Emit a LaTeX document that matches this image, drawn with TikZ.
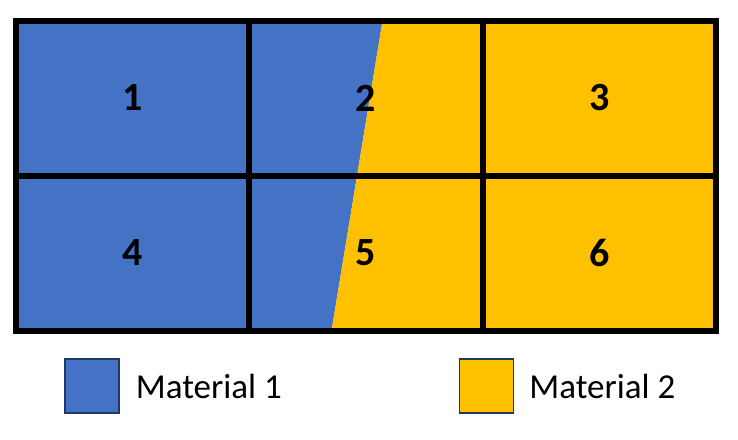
\documentclass[tikz,border=0pt]{standalone}
\usepackage{fontspec}
\setmainfont{Carlito}
\usetikzlibrary{positioning}
\definecolor{matblue}{HTML}{4472C4}
\definecolor{matyellow}{HTML}{FFC000}
\definecolor{legendedge}{HTML}{1F3864}

\begin{document}
\begin{tikzpicture}[x=1pt,y=-1pt,
    gridline/.style={line width=6pt,black},
    cellnum/.style={font=\fontsize{40}{48}\selectfont\bfseries,inner sep=0pt},
    legendbox/.style={draw=legendedge,line width=1.5pt,minimum size=54pt,inner sep=0pt},
    legendlabel/.style={font=\fontsize{35}{42}\selectfont,inner sep=0pt}]
    \useasboundingbox (0,0) rectangle (738,439);
    % mesh corners and interface
    \coordinate (TL) at (16,21);
    \coordinate (TR) at (716,21);
    \coordinate (BL) at (16,331);
    \coordinate (BR) at (716,331);
    \coordinate (IT) at (382.5,21);
    \coordinate (IB) at (331.5,331);

    % Fill materials
    \fill[matblue] (TL) -- (IT) -- (IB) -- (BL) -- cycle;
    \fill[matyellow] (IT) -- (TR) -- (BR) -- (IB) -- cycle;

    % Draw mesh
    \draw[gridline] (TL) rectangle (BR);
    \foreach \x in {249,483} {
        \draw[gridline] (\x,21) -- (\x,331);
    }
    \draw[gridline] (16,175.5) -- (716,175.5);

    % Cell numbers
    \foreach \n/\x/\y in {1/132.5/98,2/366/98,3/599.5/98,4/132.5/253,5/366/253,6/599.5/253} {
        \node[cellnum] (cell\n) at (\x,\y) {\n};
    }

    % Legend
    \node[legendbox,fill=matblue] (box1) at (92,386) {};
    \node[legendlabel,right=16pt of box1] (label1) {Material 1};
    \node[legendbox,fill=matyellow] (box2) at (486.5,386) {};
    \node[legendlabel,right=15pt of box2] (label2) {Material 2};
\end{tikzpicture}
\end{document}
